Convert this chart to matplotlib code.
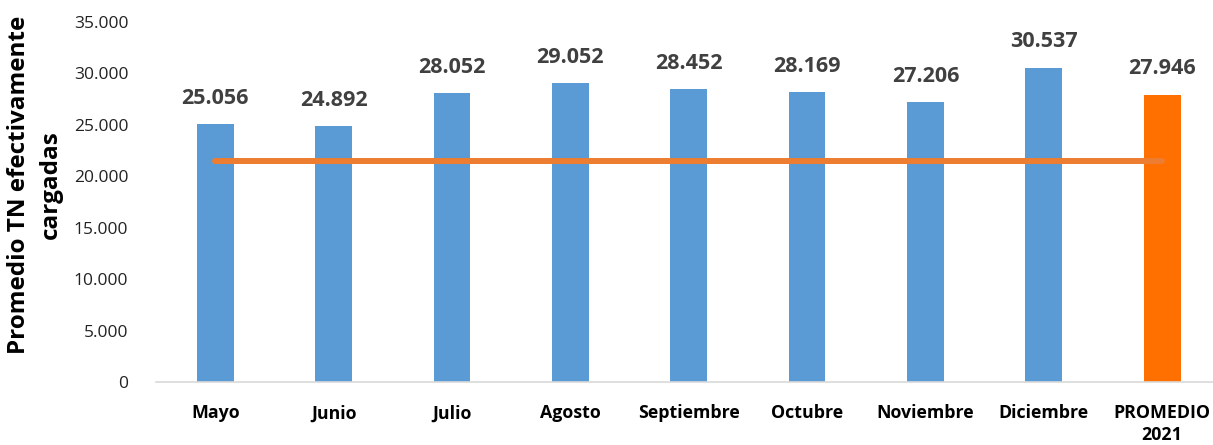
import matplotlib
matplotlib.use("Agg")
import matplotlib.pyplot as plt

categories = ["Mayo", "Junio", "Julio", "Agosto", "Septiembre", "Octubre",
              "Noviembre", "Diciembre", "PROMEDIO\n2021"]
values = [25056, 24892, 28052, 29052, 28452, 28169, 27206, 30537, 27946]
value_labels = ["25.056", "24.892", "28.052", "29.052", "28.452", "28.169",
                "27.206", "30.537", "27.946"]
line_values = [21500, 21500, 21500, 21500, 21500, 21500, 21500, 21500, 21500]
y_ticks = [0, 5000, 10000, 15000, 20000, 25000, 30000, 35000]
y_tick_labels = ["0", "5.000", "10.000", "15.000", "20.000", "25.000",
                 "30.000", "35.000"]

plt.rcParams['font.family'] = ['Open Sans', 'DejaVu Sans']

W, H = 1213, 445
fig = plt.figure(figsize=(W / 100, H / 100), dpi=100)
left_px, right_px, bottom_px, top_px = 156, 1213, 382, 22
ax = fig.add_axes([left_px / W, (H - bottom_px) / H,
                   (right_px - left_px) / W, (bottom_px - top_px) / H])

x = list(range(len(categories)))
colors = ["#5B9BD5"] * (len(categories) - 1) + ["#FF7000"]
ax.bar(x, values, width=0.31, color=colors, zorder=2)
ax.plot(x, line_values, color="#ED7D31", lw=4.3, solid_capstyle="round", zorder=3)

for xi, v, lab in zip(x, values, value_labels):
    ax.text(xi, v + 1500, lab, ha="center", va="bottom", fontsize=15.5,
            fontweight="bold", color="#404040")

ax.set_ylim(0, 35000)
ax.set_xlim(-0.5, (right_px - 215) / 118.4)
ax.set_yticks(y_ticks)
ax.set_yticklabels(y_tick_labels, fontsize=12.5, color="#222222")
ax.set_xticks(x)
ax.set_xticklabels(categories, fontsize=12.8, fontweight="bold", color="black",
                   linespacing=1.25)
ax.tick_params(axis="both", length=0)
ax.tick_params(axis="y", pad=20)
ax.tick_params(axis="x", pad=16)
for s in ["top", "right", "left"]:
    ax.spines[s].set_visible(False)
ax.spines["bottom"].set_color("#D9D9D9")
ax.spines["bottom"].set_linewidth(1.2)

fig.text(0.006, 0.585, "Promedio TN efectivamente\ncargadas", rotation=90,
         ha="left", va="center", fontsize=17.5, fontweight="bold",
         multialignment="center", linespacing=1.4)

fig.savefig("out.png", dpi=100)
